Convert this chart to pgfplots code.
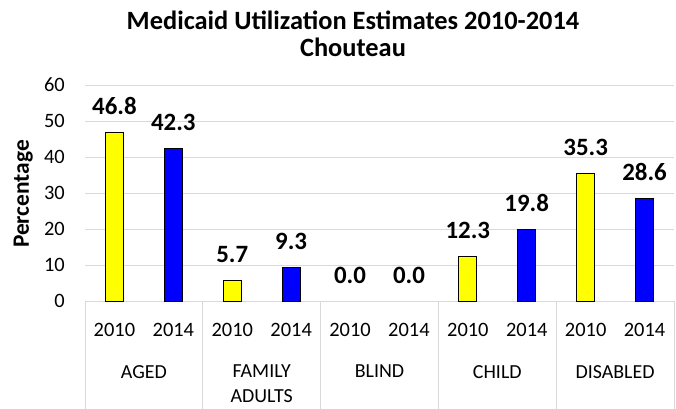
\documentclass[border=0pt]{standalone}
\usepackage{fontspec}
\setmainfont{Carlito}
\usepackage{pgfplots}
\pgfplotsset{compat=1.18}
\definecolor{gridgray}{HTML}{D9D9D9}
\definecolor{barblue}{HTML}{0000FF}
\definecolor{baryellow}{HTML}{FFFF00}
\begin{document}
\begin{tikzpicture}
\path[use as bounding box] (0,0) rectangle (676bp,-409bp);
\node[font=\fontsize{26.5}{27}\selectfont\bfseries, align=center] at (353bp,-33.5bp) {Medicaid Utilization Estimates 2010-2014\\Chouteau};
\begin{axis}[
  at={(85bp,-301bp)}, anchor=south west,
  scale only axis, width=589bp, height=216bp,
  xmin=-0.5, xmax=9.5, ymin=0, ymax=60,
  ytick={0,10,...,60},
  separate axis lines,
  axis x line*=bottom, axis y line*=left,
  x axis line style={draw=gridgray, line width=0.8pt, -},
  y axis line style={draw=none},
  ymajorgrids, grid style={gridgray, line width=0.8pt},
  major tick length=0pt,
  xtick={0,...,9},
  xticklabels={2010,2014,2010,2014,2010,2014,2010,2014,2010,2014},
  minor xtick={-0.5,1.5,3.5,5.5,7.5,9.5},
  minor tick length=110bp,
  tick align=outside,
  minor tick style={gridgray, line width=0.8pt},
  xminorgrids=false,
  extra x ticks={0.5,2.5,4.5,6.5,8.5},
  extra x tick labels={AGED,{FAMILY\\ADULTS},BLIND,CHILD,DISABLED},
  extra x tick style={major tick length=0pt, grid=none,
     xticklabel style={yshift=-42bp, align=center, font=\fontsize{20}{25}\selectfont}},
  xticklabel style={anchor=north, inner sep=0pt, yshift=-22bp, font=\fontsize{20.5}{24}\selectfont},
  yticklabel style={anchor=east, inner sep=0pt, xshift=-20bp, font=\fontsize{20.5}{24}\selectfont},
  /pgf/number format/assume math mode=true,
  ylabel={Percentage},
  every axis y label/.style={at={(rel axis cs:0,0.5)}, xshift=-56bp, yshift=-1bp, rotate=90, anchor=base, font=\fontsize{23.5}{26}\selectfont\bfseries},
  nodes near coords={\pgfmathprintnumber[fixed,fixed zerofill,precision=1]{\pgfplotspointmeta}},
  nodes near coords style={font=\fontsize{25}{30}\selectfont\bfseries, anchor=base, inner sep=0pt, yshift=18bp},
  clip=false,
]
\addplot[ybar, bar shift=0pt, bar width=18bp, fill=baryellow, draw=black, line width=1bp]
  coordinates {(0,46.8) (2,5.7) (6,12.3) (8,35.3)};
\addplot[ybar, bar shift=0pt, bar width=18bp, fill=barblue, draw=black, line width=1bp]
  coordinates {(1,42.3) (3,9.3) (7,19.8) (9,28.6)};
\addplot[ybar, bar shift=0pt, bar width=18bp, fill=none, draw=none]
  coordinates {(4,0.0) (5,0.0)};
\end{axis}
\end{tikzpicture}
\end{document}
